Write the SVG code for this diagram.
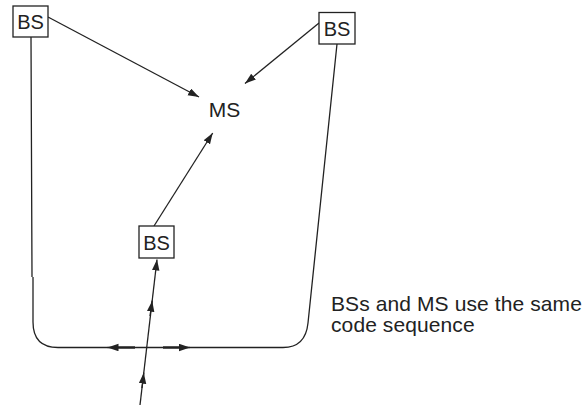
<svg xmlns="http://www.w3.org/2000/svg" width="584" height="405" viewBox="0 0 584 405">
<style>
.box{fill:#fff;stroke:#222;stroke-width:1.3}
.lbl{font-family:"Liberation Sans",Arial,sans-serif;font-size:20px;fill:#222}
.big{font-size:21px}
.ln{fill:none;stroke:#222;stroke-width:1.3}
.thick{fill:none;stroke:#222;stroke-width:2.4}
</style>
<defs>
<marker id="ah" markerUnits="userSpaceOnUse" markerWidth="12" markerHeight="8" refX="11" refY="3.75" orient="auto">
<path d="M0,0 L11,3.75 L0,7.5 z" fill="#222"/>
</marker>
</defs>
<rect width="584" height="405" fill="#fff"/>
<g id="connectors">
<line class="ln" x1="48" y1="17" x2="199" y2="97" marker-end="url(#ah)"/>
<line class="ln" x1="319" y1="23" x2="245" y2="83.5" marker-end="url(#ah)"/>
<line class="ln" x1="154" y1="226" x2="212.7" y2="133" marker-end="url(#ah)"/>
<line class="ln" x1="140" y1="405" x2="157" y2="259.5" marker-end="url(#ah)"/>
<line class="ln" x1="142" y1="388" x2="143.8" y2="372.7" marker-end="url(#ah)"/>
<line class="ln" x1="150" y1="316" x2="152.2" y2="300.7" marker-end="url(#ah)"/>
<path class="ln" d="M31 37 L32 277 M33 277 L33 322 Q33 347.5 58 347.5 L283 347.5 Q305.5 347.5 308 323 L337 44"/>
<line class="thick" x1="135" y1="347.5" x2="117" y2="347.5"/>
<line class="ln" x1="117" y1="347.5" x2="107.5" y2="347.5" marker-end="url(#ah)"/>
<line class="thick" x1="163" y1="347.5" x2="181" y2="347.5"/>
<line class="ln" x1="181" y1="347.5" x2="190" y2="347.5" marker-end="url(#ah)"/>
</g>
<g id="bs-top-left">
<rect class="box" x="13" y="6" width="35" height="31"/>
<text class="lbl" x="30.5" y="28.5" text-anchor="middle">BS</text>
</g>
<g id="bs-top-right">
<rect class="box" x="319" y="12.5" width="36" height="31.5"/>
<text class="lbl" x="337" y="36" text-anchor="middle">BS</text>
</g>
<g id="bs-middle">
<rect class="box" x="139" y="226" width="35" height="32"/>
<text class="lbl" x="156.5" y="250" text-anchor="middle">BS</text>
</g>
<g id="ms">
<text class="lbl big" x="224.5" y="116.7" text-anchor="middle">MS</text>
</g>
<g id="note">
<text class="lbl big" x="331" y="310.7" letter-spacing="0.1">BSs and MS use the same</text>
<text class="lbl big" x="331" y="331.7" letter-spacing="0.1">code sequence</text>
</g>
</svg>
